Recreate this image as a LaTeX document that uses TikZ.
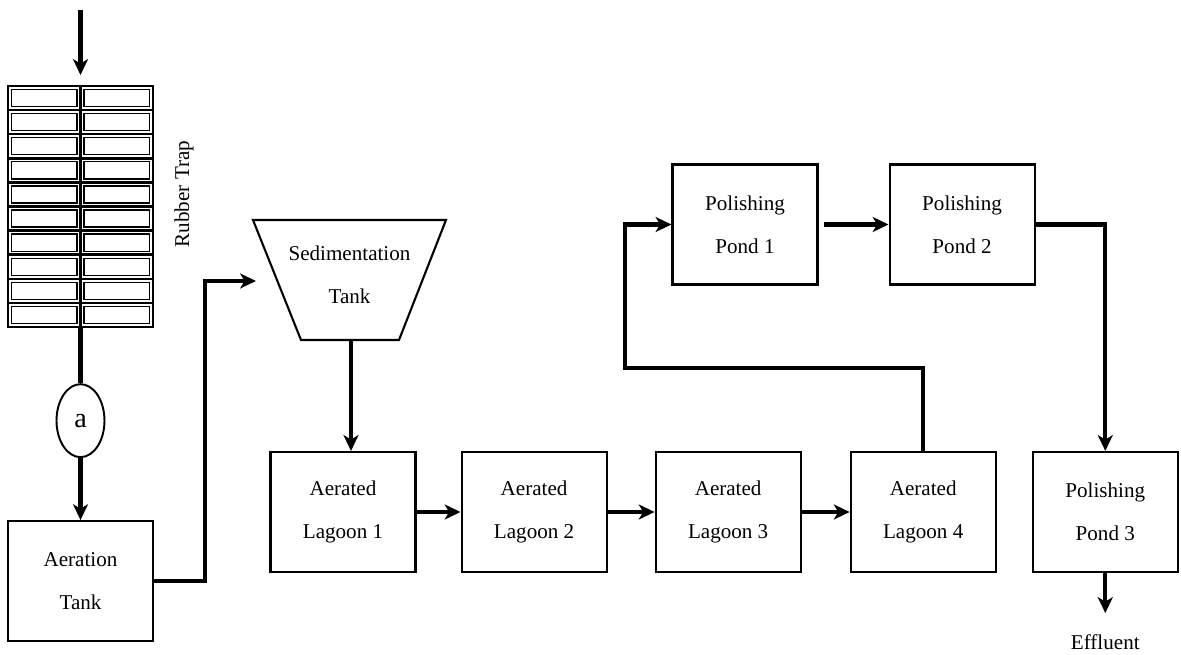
\documentclass[tikz,border=0pt]{standalone}
\usepackage{fontspec}
\setmainfont{Liberation Serif}
\usetikzlibrary{arrows.meta, calc, shapes.geometric, positioning}
\tikzstyle{unit} = [draw, line width=1.2pt, minimum width=2.9cm, minimum height=2.4cm,
   align=center, font=\fontsize{12}{24.4}\selectfont]
\tikzstyle{flow} = [line width=2.3pt, -{Stealth[length=9pt,width=8.5pt,inset=2.5pt]}]
\tikzstyle{pipe} = [line width=2.3pt]
\tikzstyle{grate} = [line width=1.4pt]
\tikzstyle{cell} = [line width=0.7pt]

\begin{document}
\begin{tikzpicture}[x=0.02cm, y=-0.02cm]
  \useasboundingbox (0,0) rectangle (1181,655);

  % rubber trap: outer frame, grid, inner cells
  \node[draw, grate, minimum width=2.9cm, minimum height=4.82cm, inner sep=0] (trap) at (80.5,206.5) {};
  \draw[grate] (trap.north) -- (trap.south);
  \foreach \r in {1,...,9}
    \draw[grate] (8,{86+\r*24.1}) -- (153,{86+\r*24.1});
  \foreach \r in {0,...,9} {
    \draw[cell] (11.5,{86+\r*24.1+3.5}) rectangle (77,{86+(\r+1)*24.1-3.5});
    \draw[cell] (84,{86+\r*24.1+3.5}) rectangle (149.5,{86+(\r+1)*24.1-3.5});
  }
  \node[rotate=90, font=\fontsize{12}{14}\selectfont] (traplbl) at (184,194) {Rubber Trap};

  \coordinate (in) at (80.5,10);
  \coordinate (intip) at (80.5,75);
  \draw[flow] (in) -- (intip);

  \node[draw, ellipse, line width=1.1pt, minimum width=0.96cm, minimum height=1.46cm, inner sep=0,
        font=\fontsize{16}{18}\selectfont, below=1.1cm of trap] (a) {a};
  \node[unit, below=1.24cm of a] (aer) {Aeration\\Tank};

  \draw[pipe] (trap.south) -- (a.north);
  \draw[flow] (a.south) -- (aer.north);

  % sedimentation tank
  \draw[line width=1.2pt] (253,220) -- (446,220) -- (399,340) -- (301,340) -- cycle;
  \node[align=center, font=\fontsize{12}{24.4}\selectfont] (sed) at (349.5,275) {Sedimentation\\Tank};
  \coordinate (sedin) at (256,281);
  \coordinate (sedout) at (351,340);
  \draw[flow] (aer.east) -- ++(51,0) |- (sedin);

  % aerated lagoons
  \node[unit] (lag1) at (343,512) {Aerated\\Lagoon 1};
  \node[unit, right=0.88cm of lag1] (lag2) {Aerated\\Lagoon 2};
  \node[unit, right=0.94cm of lag2] (lag3) {Aerated\\Lagoon 3};
  \node[unit, right=0.96cm of lag3] (lag4) {Aerated\\Lagoon 4};
  \node[unit, right=0.70cm of lag4] (pond3) {Polishing\\Pond 3};

  % polishing ponds
  \node[unit] (pond1) at (745,224.5) {Polishing\\Pond 1};
  \node[unit, right=1.40cm of pond1] (pond2) {Polishing\\Pond 2};

  \draw[flow] (sedout) -- (sedout |- lag1.north);
  \draw[flow] (lag1) -- (lag2);
  \draw[flow] (lag2) -- (lag3);
  \draw[flow] (lag3) -- (lag4);

  % return line to the first pond
  \coordinate (bend) at (625,368);
  \draw[flow] (lag4.north) |- (bend) |- (pond1.west);
  \draw[flow] ([xshift=0.1cm]pond1.east) -- (pond2.west);
  \draw[flow] (pond2.east) -| (pond3.north);

  \coordinate[below=0.8cm of pond3.south] (out);
  \draw[flow] (pond3.south) -- (out);
  \node[font=\fontsize{12}{14}\selectfont] (eff) at (pond3 |- 0,642) {Effluent};
\end{tikzpicture}
\end{document}
